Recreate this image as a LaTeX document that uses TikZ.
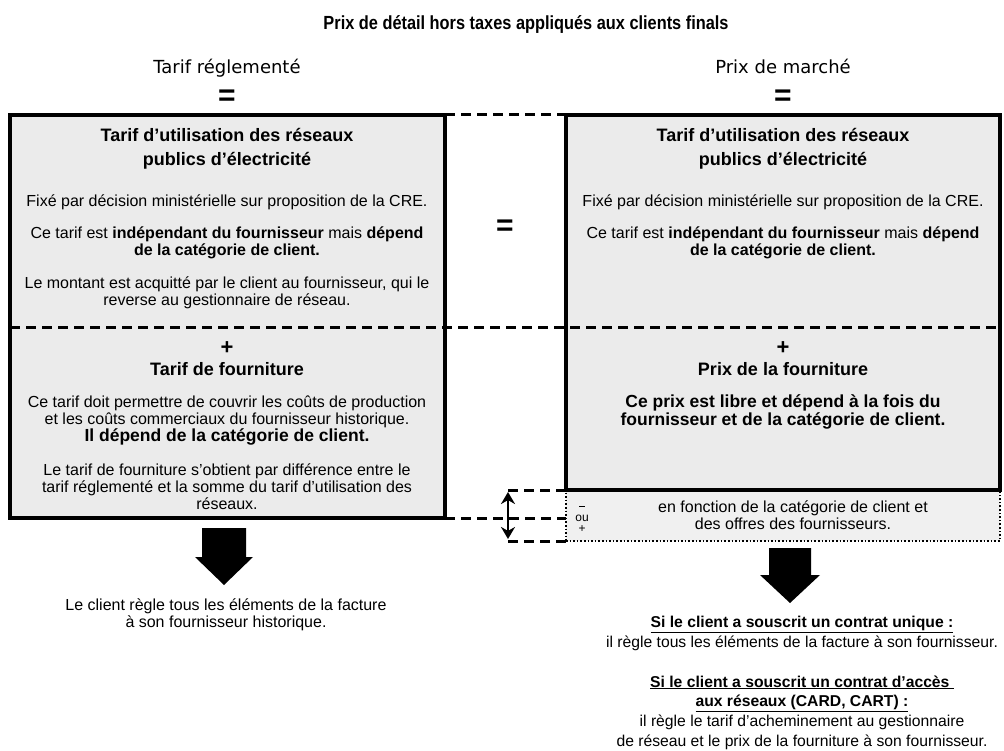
\documentclass[tikz,border=0pt]{standalone}
\usepackage{fontspec}
\setmainfont{Liberation Sans}
\newfontfamily\labelfont{DejaVu Sans}
\usetikzlibrary{arrows.meta}

\begin{document}
\begin{tikzpicture}[x=1pt, y=-1pt,
    panel/.style={draw, line width=4pt, fill=black!8,
                  inner sep=0pt, outer sep=0pt, anchor=north west},
    optbox/.style={draw, line width=1.6pt, dotted, fill=black!6,
                   inner sep=0pt, outer sep=0pt, anchor=north west},
    sep/.style={line width=3pt, dash pattern=on 10pt off 6pt},
    txt/.style={align=center, inner sep=0pt, font=\fontsize{16}{17}\selectfont},
    head/.style={align=center, inner sep=0pt, font=\fontsize{18}{24.5}\selectfont\bfseries},
    strong/.style={align=center, inner sep=0pt, font=\fontsize{17.5}{17.5}\selectfont\bfseries},
    column/.style={inner sep=0pt, anchor=base, font=\fontsize{18}{18}\labelfont},
    sign/.style={inner sep=0pt, font=\fontsize{30}{30}\selectfont\bfseries},
    plus/.style={inner sep=0pt, font=\fontsize{22}{22}\selectfont\bfseries},
    ]
\useasboundingbox[fill=white] (0,0) rectangle (1004,751);

\node[inner sep=0pt, font=\fontsize{19}{19}\selectfont\bfseries] (title) at (526,25)
    {\scalebox{0.86}[1]{Prix de détail hors taxes appliqués aux clients finals}};

\node[column] (reglab) at (227,74) {Tarif réglementé};
\node[column] (mktlab) at (783,74) {Prix de marché};
\node[sign] (regeq) at (227,98) {=};
\node[sign] (mkteq) at (783,98) {=};

% the two panels and the optional band
\node[panel, minimum width=435pt, minimum height=403pt] (reg) at (10,115) {};
\node[panel, minimum width=434pt, minimum height=375pt] (mkt) at (566,115) {};
\node[optbox, minimum width=434pt, minimum height=51pt] (opt) at (566,490) {};
\draw[line width=4pt] (mkt.south west) -- (mkt.south east);

\coordinate (div) at (0,328);
\coordinate (atop) at (508,490);
\coordinate (abot) at (508,541);
\draw[sep] (reg.north east) -- (mkt.north west);
\draw[sep] (reg.west |- div) -- (mkt.east |- div);
\draw[sep] (reg.south east) -- (reg.south east -| opt.west);
\draw[sep] (atop) -- (opt.north west);
\draw[sep] (abot) -- (opt.south west);
\draw[line width=2.8pt, {Stealth[length=12pt,width=14pt]}-{Stealth[length=12pt,width=14pt]}]
    ([yshift=-2pt]atop) -- ([yshift=2pt]abot);

\node[sign] (mideq) at (505,228) {=};

% regulated tariff
\node[head] (regnet) at (227,149) {Tarif d’utilisation des réseaux\\publics d’électricité};
\node[txt] (regfix) at (227,202) {Fixé par décision ministérielle sur proposition de la CRE.};
\node[txt] (regind) at (227,243) {Ce tarif est \textbf{indépendant du fournisseur} mais \textbf{dépend}\\
    \textbf{de la catégorie de client.}};
\node[txt] (regpay) at (227,293) {Le montant est acquitté par le client au fournisseur, qui le\\
    reverse au gestionnaire de réseau.};
\node[plus] (regplus) at (227,348) {+};
\node[head] (regsup) at (227,369) {Tarif de fourniture};
\node[txt] (regcost) at (227,421) {Ce tarif doit permettre de couvrir les coûts de production\\
    et les coûts commerciaux du fournisseur historique.\\
    {\fontsize{17.5}{17}\selectfont\bfseries Il dépend de la catégorie de client.}};
\node[txt] (regdiff) at (227,487) {Le tarif de fourniture s'obtient par différence entre le\\
    tarif réglementé et la somme du tarif d'utilisation des\\
    réseaux.};

% market price
\node[head] (mktnet) at (783,149) {Tarif d’utilisation des réseaux\\publics d’électricité};
\node[txt] (mktfix) at (783,202) {Fixé par décision ministérielle sur proposition de la CRE.};
\node[txt] (mktind) at (783,243) {Ce tarif est \textbf{indépendant du fournisseur} mais \textbf{dépend}\\
    \textbf{de la catégorie de client.}};
\node[plus] (mktplus) at (783,348) {+};
\node[head] (mktsup) at (783,369) {Prix de la fourniture};
\node[strong] (mktfree) at (783,412) {Ce prix est libre et dépend à la fois du\\
    fournisseur et de la catégorie de client.};

\node[txt] (optxt) at (793,515) {en fonction de la catégorie de client et\\des offres des fournisseurs.};
\node[align=center, inner sep=0pt, font=\fontsize{12}{11}\selectfont] (optsign) at (582,519)
    {\rule[0.6ex]{6pt}{1pt}\\ou\\+};

% who pays whom
\fill (202,528) -- (246,528) -- (246,557) -- (253,557) -- (224,585)
      -- (195,557) -- (202,557) -- cycle;
\fill (769,548) -- (811,548) -- (811,575) -- (820,575) -- (790,603)
      -- (760,575) -- (769,575) -- cycle;

\node[txt] (regpays) at (226,615) {Le client règle tous les éléments de la facture\\
    à son fournisseur historique.};
\node[txt, font=\fontsize{15.7}{20}\selectfont] (mktone) at (802,633)
    {\textbf{\underline{Si le client a souscrit un contrat unique :}}\\
    il règle tous les éléments de la facture à son fournisseur.};
\node[txt, font=\fontsize{15.7}{19.7}\selectfont] (mktcard) at (802,712.5)
    {\textbf{\underline{Si le client a souscrit un contrat d’accès\ }}\\
    \textbf{\underline{aux réseaux (CARD, CART) :}}\\
    il règle le tarif d'acheminement au gestionnaire\\
    de réseau et le prix de la fourniture à son fournisseur.};
\end{tikzpicture}
\end{document}
